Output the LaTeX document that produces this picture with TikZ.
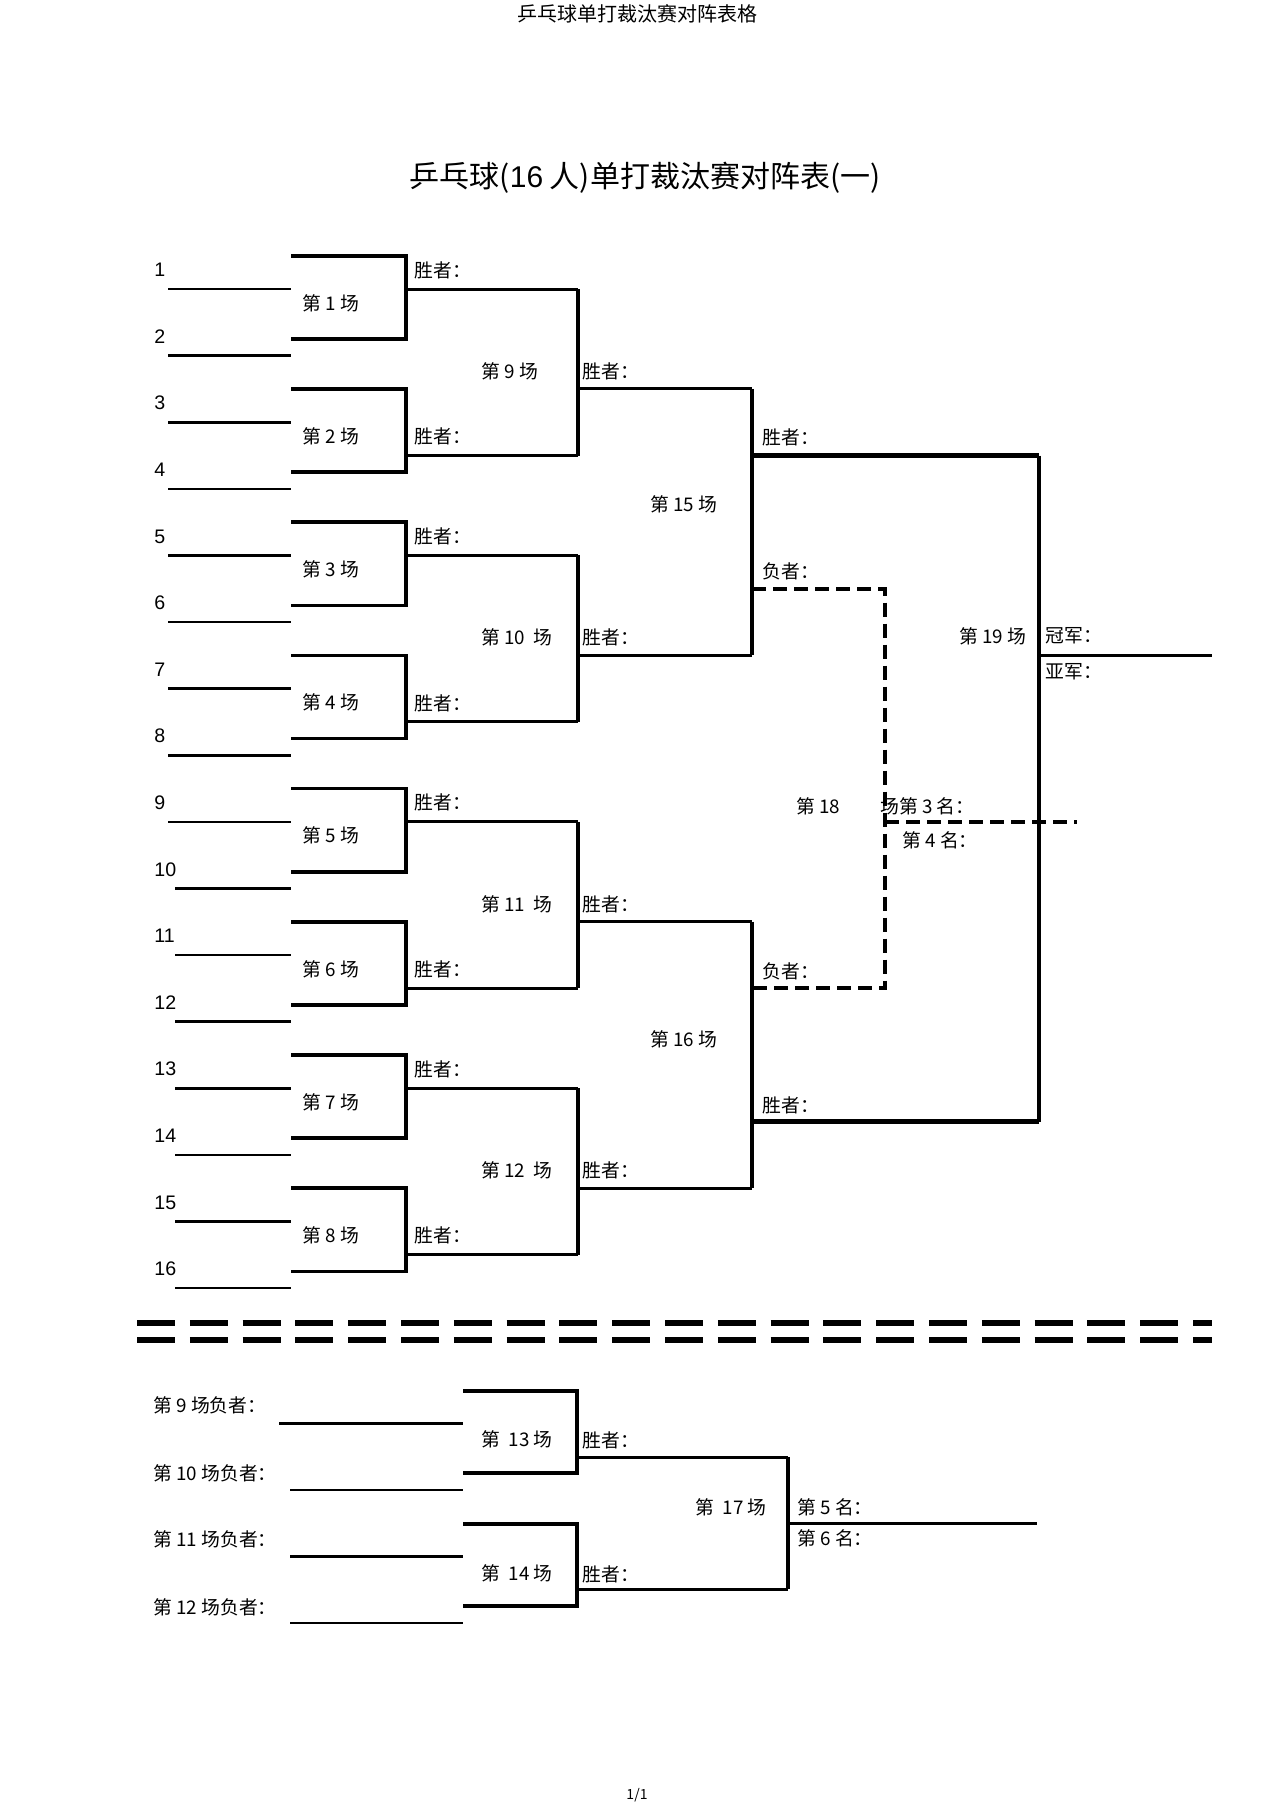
\documentclass[tikz,border=0pt]{standalone}
\usepackage{fontspec}
\setmainfont{Noto Sans CJK SC}
\newfontfamily\latin{Liberation Sans}
\tikzset{
  seat/.style={line width=1.3pt},
  match/.style={line width=1.8pt},
  win/.style={line width=1.5pt},
  champ/.style={line width=2.4pt},
  lose/.style={line width=2pt, dash pattern=on 7pt off 3.5pt},
  split/.style={line width=2.6pt, dash pattern=on 19pt off 7.4pt},
  txt/.style={anchor=west, inner sep=0pt, font=\fontsize{9.4}{11}\selectfont},
}
\begin{document}
\begin{tikzpicture}[x=0.5pt, y=-0.5pt]
\useasboundingbox (0,0) rectangle (1274,1804);

% header, title, footer
\node[font=\fontsize{10}{12}\selectfont] (head) at (637,14) {乒乓球单打裁汰赛对阵表格};
\node[font=\fontsize{15}{18}\selectfont] (title) at (645,178) {乒乓球({\latin 16} 人)单打裁汰赛对阵表(一)};
\node[font=\fontsize{7}{8}\selectfont] (foot) at (637,1795) {1/1};

% the 16 players
\foreach \i in {1,...,16} {
  \pgfmathsetmacro{\py}{289+66.6*(\i-1)}
  \pgfmathsetmacro{\px}{\i<10 ? 168 : 175}
  \node[txt, font=\fontsize{9.8}{11}\latin] (n\i) at (154,\py-19) {\i};
  \draw[seat] (\px,\py) -- (291,\py);
}

% first round: matches 1-8
\foreach \k in {1,...,8} {
  \pgfmathsetmacro{\ta}{289+66.6*(2*\k-2)}
  \pgfmathsetmacro{\tb}{\ta+66.6}
  \pgfmathsetmacro{\wy}{mod(\k,2)==1 ? \ta : \ta+33.3}
  \draw[match] (291,\ta-33.3) -| (406,\tb-16.7) -- (291,\tb-16.7);
  \draw[win] (406,\wy) -- (578,\wy);
  \node[txt] (m\k) at (302,\ta+14) {第 \k\ 场};
  \node[txt] (w\k) at (414,\wy-19) {胜者：};
}

% second round: matches 9-12
\foreach \m/\name in {1/{第 9 场}, 2/{第 10 \ 场}, 3/{第 11 \ 场}, 4/{第 12 \ 场}} {
  \pgfmathsetmacro{\ua}{289+66.6*(4*\m-4)}
  \pgfmathsetmacro{\ub}{289+66.6*(4*\m-2)}
  \draw[match] (578,\ua) -- (578,\ub+33.3);
  \draw[win] (578,\ub-33.3) -- (752,\ub-33.3);
  \node[txt] (r\m) at (481,\ub-51) {\name};
  \node[txt] (v\m) at (582,\ub-51) {胜者：};
}

% semi finals, final, third place
\draw[match] (752,388.9) -- (752,655.3);
\draw[match] (752,921.7) -- (752,1188.1);
\draw[champ] (752,455.5) -- (1039,455.5);
\draw[champ] (752,1121.5) -- (1039,1121.5);
\draw[champ] (1039,455.5) -- (1039,1121.5);
\draw[win] (1039,655.3) -- (1212,655.3);
\draw[lose] (752,588.7) -- (885,588.7) -- (885,988.3) -- (752,988.3);
\draw[lose] (885,821.8) -- (1077,821.8);

\node[txt] (s15) at (650,504) {第 15 场};
\node[txt] (s15w) at (762,437) {胜者：};
\node[txt] (s15l) at (762,571) {负者：};
\node[txt] (s16) at (650,1039) {第 16 场};
\node[txt] (s16l) at (762,971) {负者：};
\node[txt] (s16w) at (762,1105) {胜者：};
\node[txt] (f19) at (959,636) {第 19 场};
\node[txt] (gold) at (1045,636) {冠军：};
\node[txt] (silver) at (1045,672) {亚军：};
\node[txt] (f18) at (796,806) {第 18};
\node[txt] (third) at (880,806) {场第 3 名：};
\node[txt] (fourth) at (902,840) {第 4 名：};

% separator
\draw[split] (137,1323) -- (1212,1323);
\draw[split] (137,1340) -- (1212,1340);

% places 5 and 6
\node[txt] (l9) at (153,1405) {第 9 场负者：};
\node[txt] (l10) at (153,1473) {第 10 场负者：};
\node[txt] (l11) at (153,1539) {第 11 场负者：};
\node[txt] (l12) at (153,1607) {第 12 场负者：};
\draw[seat] (279,1423.5) -- (463,1423.5);
\draw[seat] (290,1490) -- (463,1490);
\draw[seat] (290,1556.5) -- (463,1556.5);
\draw[seat] (290,1623) -- (463,1623);
\draw[match] (463,1391) -| (577,1473) -- (463,1473);
\draw[match] (463,1524) -| (577,1606) -- (463,1606);
\draw[win] (577,1457) -- (788,1457);
\draw[win] (577,1589) -- (788,1589);
\draw[match] (788,1457) -- (788,1589);
\draw[win] (788,1523) -- (1037,1523);

\node[txt] (c13) at (481,1439) {第 \ 13 场};
\node[txt] (c13w) at (582,1440) {胜者：};
\node[txt] (c14) at (481,1573) {第 \ 14 场};
\node[txt] (c14w) at (582,1574) {胜者：};
\node[txt] (c17) at (695,1507) {第 \ 17 场};
\node[txt] (fifth) at (797,1507) {第 5 名：};
\node[txt] (sixth) at (797,1538) {第 6 名：};
\end{tikzpicture}
\end{document}
